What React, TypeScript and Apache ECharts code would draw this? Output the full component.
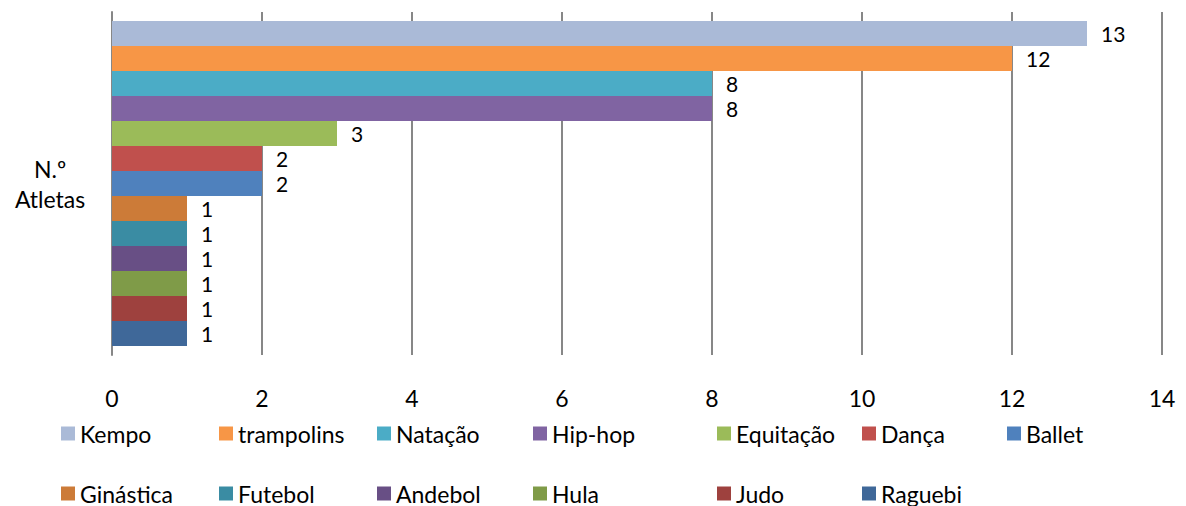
import React, { useEffect, useRef } from "react";
import * as echarts from "echarts";

const categories = ["N.º\nAtletas"];
const seriesNames = ["Kempo", "trampolins", "Natação", "Hip-hop", "Equitação", "Dança", "Ballet", "Ginástica", "Futebol", "Andebol", "Hula", "Judo", "Raguebi"];
const seriesValues = [13, 12, 8, 8, 3, 2, 2, 1, 1, 1, 1, 1, 1];
const seriesColors = ["#AABAD7", "#F79646", "#4BACC6", "#8064A2", "#9BBB59", "#C0504D", "#4F81BD", "#CC7B38", "#3A8CA3", "#684F85", "#7F9B48", "#9E413E", "#3F6899"];
const xTicks = { min: 0, max: 14, interval: 2 };

const legendCols = [61, 219, 377, 533, 717, 862, 1007];
const legendRows = [422, 482];

const FONT = "Lato";
const FS = 23;

export default function App() {
  const ref = useRef<HTMLDivElement>(null);
  useEffect(() => {
    if (!ref.current) return;
    const chart = echarts.init(ref.current, null, { renderer: "svg" });
    const legends = seriesNames.map((name, i) => ({
      data: [name],
      left: legendCols[i % 7],
      top: legendRows[Math.floor(i / 7)],
      padding: 0,
      itemWidth: 14,
      itemHeight: 14,
      icon: "rect",
      selectedMode: false,
      textStyle: { fontFamily: FONT, fontSize: FS, color: "#000" },
    }));
    chart.setOption({
      animation: false,
      grid: { left: 112, right: 24, top: 12, bottom: 151, containLabel: false },
      legend: legends,
      xAxis: {
        type: "value",
        min: xTicks.min,
        max: xTicks.max,
        interval: xTicks.interval,
        axisLine: { show: false },
        axisTick: { show: false },
        splitLine: { show: true, lineStyle: { color: "#878787", width: 2 } },
        axisLabel: { margin: 31, fontFamily: FONT, fontSize: FS, color: "#000" },
      },
      yAxis: {
        type: "category",
        data: categories,
        inverse: true,
        axisLine: { show: true, lineStyle: { color: "#878787", width: 2 } },
        axisTick: { show: false },
        axisLabel: {
          margin: 62,
          align: "center",
          lineHeight: 30,
          backgroundColor: "rgba(255,255,255,0)",
          padding: [0, 0, 8, 0],
          fontFamily: FONT,
          fontSize: FS,
          color: "#000",
        },
      },
      series: seriesNames.map((name, i) => ({
        type: "bar",
        name,
        data: [seriesValues[i]],
        barGap: "0%",
        barCategoryGap: "5.2%",
        itemStyle: { color: seriesColors[i] },
        label: { show: true, position: "right", distance: 14, fontFamily: FONT, fontSize: 21, color: "#000" },
      })),
    });
    return () => chart.dispose();
  }, []);
  return <div ref={ref} style={{ position: "absolute", left: 0, top: 0, width: 1186, height: 506 }} />;
}
